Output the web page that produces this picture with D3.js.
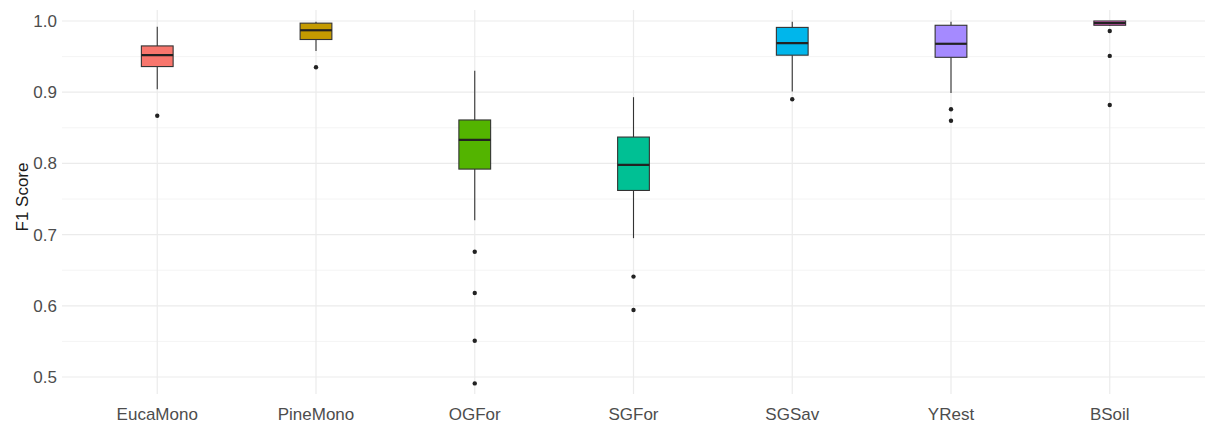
<!DOCTYPE html>
<html>
<head>
<meta charset="utf-8">
<script src="https://cdn.jsdelivr.net/npm/d3@7"></script>
<style>
  body { margin: 0; background: #fff; }
  svg text { font-family: "Liberation Sans", Arial, sans-serif; }
</style>
</head>
<body>
<div id="plot"></div>
<script>
var categories = ["EucaMono", "PineMono", "OGFor", "SGFor", "SGSav", "YRest", "BSoil"];
var whiskerHigh = [0.992, 0.999, 0.930, 0.893, 0.999, 0.999, 1.000];
var q3 = [0.965, 0.997, 0.861, 0.837, 0.991, 0.994, 1.000];
var median = [0.952, 0.987, 0.833, 0.798, 0.969, 0.968, 0.997];
var q1 = [0.936, 0.974, 0.792, 0.762, 0.952, 0.949, 0.994];
var whiskerLow = [0.904, 0.958, 0.720, 0.695, 0.901, 0.899, 0.993];
var outliers = [
  [0.867],
  [0.935],
  [0.676, 0.618, 0.551, 0.491],
  [0.641, 0.594],
  [0.890],
  [0.876, 0.860],
  [0.986, 0.951, 0.882]
];
var fills = ["#F8766D", "#C49A00", "#53B400", "#00C094", "#00B6EB", "#A58AFF", "#FB61D7"];
var yTicks = [0.5, 0.6, 0.7, 0.8, 0.9, 1.0];
var yMinor = [0.55, 0.65, 0.75, 0.85, 0.95];

const w = 1208;
const h = 425;
const panelLeft = 62, panelRight = 1205, panelTop = 10, panelBottom = 394;

const xScale = d3.scaleBand()
  .domain(categories)
  .range([panelLeft, panelRight])
  .paddingOuter(0.1)
  .paddingInner(0);

const yScale = d3.scaleLinear()
  .domain([0.5, 1.0])
  .range([377, 21]);

const svg = d3.select("div#plot")
  .append("svg")
  .attr("width", w)
  .attr("height", h);

// grid
svg.selectAll(".minor")
  .data(yMinor)
  .enter()
  .append("line")
  .attr("x1", panelLeft).attr("x2", panelRight)
  .attr("y1", d => yScale(d)).attr("y2", d => yScale(d))
  .attr("stroke", "#f4f4f4")
  .attr("stroke-width", 1);

svg.selectAll(".major")
  .data(yTicks)
  .enter()
  .append("line")
  .attr("x1", panelLeft).attr("x2", panelRight)
  .attr("y1", d => yScale(d)).attr("y2", d => yScale(d))
  .attr("stroke", "#ebebeb")
  .attr("stroke-width", 1.2);

svg.selectAll(".vgrid")
  .data(categories)
  .enter()
  .append("line")
  .attr("x1", d => xScale(d) + xScale.bandwidth() / 2)
  .attr("x2", d => xScale(d) + xScale.bandwidth() / 2)
  .attr("y1", panelTop).attr("y2", panelBottom)
  .attr("stroke", "#ebebeb")
  .attr("stroke-width", 1.2);

// axes (text only, like theme_minimal)
const yAxis = d3.axisLeft(yScale).tickValues(yTicks).tickFormat(d3.format(".1f")).tickSize(0).tickPadding(5);
const yg = svg.append("g").attr("transform", `translate(${panelLeft}, 0)`).call(yAxis);
yg.select(".domain").remove();
yg.selectAll("text").attr("fill", "#4d4d4d").style("font-size", "17px");

const xAxis = d3.axisBottom(xScale).tickSize(0).tickPadding(14);
const xg = svg.append("g").attr("transform", `translate(0, ${panelBottom})`).call(xAxis);
xg.select(".domain").remove();
xg.selectAll("text").attr("fill", "#4d4d4d").style("font-size", "17px");

svg.append("text")
  .attr("transform", `translate(22, ${yScale(0.75) - 2}) rotate(-90)`)
  .attr("text-anchor", "middle")
  .attr("dy", "0.35em")
  .attr("fill", "#1a1a1a")
  .style("font-size", "17px")
  .text("F1 Score");

// boxes
const boxW = xScale.bandwidth() * 0.2;
const boxes = svg.selectAll(".box")
  .data(categories)
  .enter()
  .append("g")
  .attr("class", "box")
  .attr("transform", d => `translate(${xScale(d) + xScale.bandwidth() / 2}, 0)`);

boxes.append("line")
  .attr("x1", 0).attr("x2", 0)
  .attr("y1", (d, i) => yScale(whiskerHigh[i]))
  .attr("y2", (d, i) => yScale(q3[i]))
  .attr("stroke", "#333").attr("stroke-width", 1.1);

boxes.append("line")
  .attr("x1", 0).attr("x2", 0)
  .attr("y1", (d, i) => yScale(q1[i]))
  .attr("y2", (d, i) => yScale(whiskerLow[i]))
  .attr("stroke", "#333").attr("stroke-width", 1.1);

boxes.append("rect")
  .attr("x", -boxW / 2)
  .attr("width", boxW)
  .attr("y", (d, i) => yScale(q3[i]))
  .attr("height", (d, i) => Math.max(1, yScale(q1[i]) - yScale(q3[i])))
  .attr("fill", (d, i) => fills[i])
  .attr("stroke", "#333")
  .attr("stroke-width", 1.1);

boxes.append("line")
  .attr("x1", -boxW / 2).attr("x2", boxW / 2)
  .attr("y1", (d, i) => yScale(median[i]))
  .attr("y2", (d, i) => yScale(median[i]))
  .attr("stroke", "#222").attr("stroke-width", 2.2);

boxes.each(function (d, i) {
  d3.select(this).selectAll("circle")
    .data(outliers[i])
    .enter()
    .append("circle")
    .attr("cx", 0)
    .attr("cy", v => yScale(v))
    .attr("r", 2.2)
    .attr("fill", "#222");
});
</script>
</body>
</html>
